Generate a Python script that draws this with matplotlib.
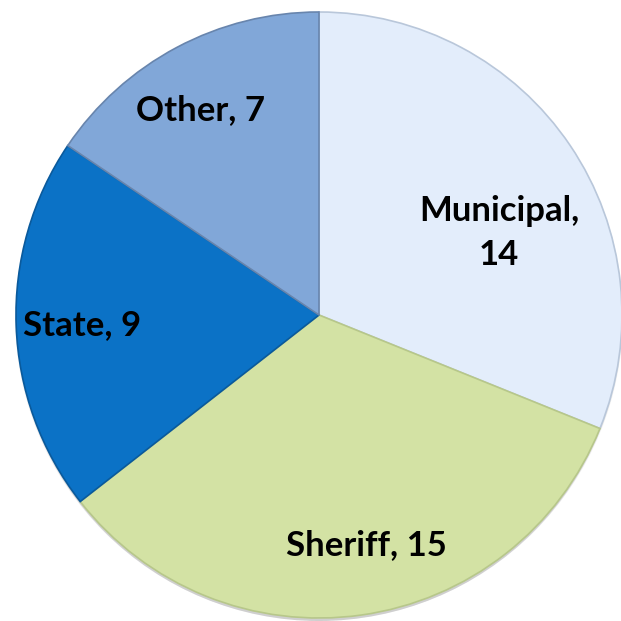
import matplotlib
matplotlib.use("Agg")
import matplotlib.pyplot as plt
from matplotlib.patches import Circle

# Slice data (clockwise from 12 o'clock)
labels = ["Municipal", "Sheriff", "State", "Other"]
values = [14, 15, 9, 7]
colors = ["#e3edfb", "#d3e2a4", "#0b72c6", "#81a7d8"]
edge_colors = ["#b9c7da", "#b7c78a", "#0a5a9c", "#6885ad"]

# label anchor points in pixel coords (x, y from top)
label_pos = [(499, 233), (366, 545), (82, 325), (200, 110)]
label_text = ["Municipal,\n14", "Sheriff, 15", "State, 9", "Other, 7"]

W = 621
cx, cy, r = 319, W - 315, 303

fig = plt.figure(figsize=(6.21, 6.21), dpi=100)
ax = fig.add_axes([0, 0, 1, 1])

# soft shadow under the pie
for i, a in enumerate([0.06, 0.06, 0.08]):
    ax.add_patch(Circle((cx, cy - 2 - i), r + 1 - i, color="black", alpha=a, lw=0))

wedges, _ = ax.pie(values, colors=colors, startangle=90, counterclock=False,
                   center=(cx, cy), radius=r, frame=True,
                   wedgeprops=dict(linewidth=1.2))
for w, ec in zip(wedges, edge_colors):
    w.set_edgecolor(ec)
ax.set_xlim(0, W)
ax.set_ylim(0, W)
ax.set_aspect("equal")
ax.axis("off")

for (x, y), t in zip(label_pos, label_text):
    ax.text(x, W - y, t, ha="center", va="center", fontsize=25,
            fontweight="bold", family="Lato", color="black", linespacing=1.45)

fig.savefig("out.png", dpi=100)
